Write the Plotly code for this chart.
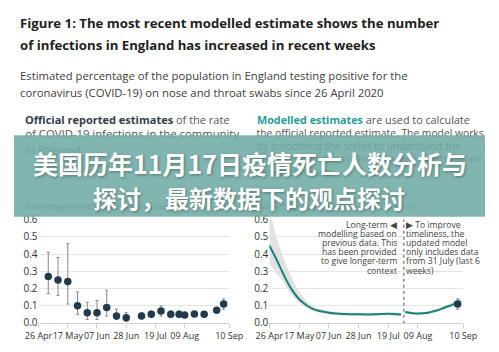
import plotly.graph_objects as go

W, H = 499, 352

# ---------------- data ----------------
# Official reported estimates (left panel): % testing positive, with 95% intervals
obs_dates = ["2020-05-03", "2020-05-10", "2020-05-17", "2020-05-24", "2020-05-31",
             "2020-06-07", "2020-06-14", "2020-06-21", "2020-06-28", "2020-07-09",
             "2020-07-16", "2020-07-23", "2020-07-30", "2020-08-05", "2020-08-09",
             "2020-08-16", "2020-08-23", "2020-09-01", "2020-09-06"]
obs_val = [0.27, 0.25, 0.24, 0.10, 0.06, 0.06, 0.09, 0.04, 0.03, 0.04,
           0.05, 0.07, 0.05, 0.05, 0.046, 0.052, 0.05, 0.074, 0.11]
obs_lo = [0.17, 0.16, 0.11, 0.05, 0.02, 0.02, 0.04, 0.02, 0.01, 0.03,
          0.04, 0.04, 0.035, 0.035, 0.035, 0.04, 0.04, 0.06, 0.08]
obs_hi = [0.41, 0.38, 0.46, 0.18, 0.12, 0.13, 0.19, 0.08, 0.06, 0.06,
          0.07, 0.10, 0.07, 0.07, 0.06, 0.065, 0.065, 0.09, 0.14]

# Long-term model (right panel, before 31 July)
lt_dates = ["2020-04-26", "2020-05-01", "2020-05-05", "2020-05-11", "2020-05-18",
            "2020-05-27", "2020-06-07", "2020-06-18", "2020-06-28", "2020-07-10",
            "2020-07-19", "2020-07-28"]
lt_val = [0.45, 0.37, 0.30, 0.205, 0.13, 0.08, 0.06, 0.052, 0.05, 0.05, 0.054, 0.049]
lt_teal_lo = [0.43, 0.355, 0.288, 0.196, 0.123, 0.074, 0.055, 0.047, 0.045, 0.045, 0.049, 0.044]
lt_teal_hi = [0.47, 0.385, 0.312, 0.214, 0.137, 0.086, 0.066, 0.057, 0.055, 0.055, 0.059, 0.054]
lt_grey_lo = [0.345, 0.29, 0.25, 0.17, 0.11, 0.068, 0.052, 0.045, 0.044, 0.044, 0.047, 0.042]
lt_grey_hi = [0.68, 0.50, 0.40, 0.28, 0.17, 0.097, 0.07, 0.06, 0.057, 0.057, 0.06, 0.057]

# Updated model (right panel, from 31 July)
up_dates = ["2020-07-31", "2020-08-05", "2020-08-10", "2020-08-16", "2020-08-22",
            "2020-08-28", "2020-09-03", "2020-09-08"]
up_val = [0.064, 0.057, 0.055, 0.06, 0.072, 0.09, 0.108, 0.124]
up_lo = [0.054, 0.050, 0.048, 0.053, 0.064, 0.080, 0.095, 0.106]
up_hi = [0.075, 0.064, 0.062, 0.067, 0.080, 0.100, 0.121, 0.142]

last_date = ["2020-09-06"]
last_val = [0.11]
last_lo = [0.08]
last_hi = [0.14]
split_date = "2020-07-30"

tick_dates = ["2020-04-26", "2020-05-17", "2020-06-07", "2020-06-28",
              "2020-07-19", "2020-08-09", "2020-09-10"]
tick_text = ["26 Apr", "17 May", "07 Jun", "28 Jun", "19 Jul", "09 Aug", "10 Sep"]
y_ticks = [0.0, 0.1, 0.2, 0.3, 0.4, 0.5, 0.6]

note_left = ["Long-term \u25C0", "modelling based on", "previous data. This",
             "has been provided", "to give longer-term", "context"]
note_right = ["\u25B6 To improve", "timeliness, the", "updated model",
              "only includes data", "from 31 July (last 6", "weeks)"]

# ---------------- styling ----------------
FONT = "Open Sans"
NAVY = "#1f3b4d"
TEAL = "#1f7f78"
TEAL_BAND = "#c6ecea"
GREY_BAND = "#e2e2e2"
GRID = "#e6e6e6"
TXT = "#414042"


def py(p):
    return 1 - p / H


fig = go.Figure()

# left panel: official estimates
fig.add_trace(go.Scatter(
    x=obs_dates, y=obs_val, mode="markers", xaxis="x", yaxis="y",
    marker=dict(size=7.5, color=NAVY),
    error_y=dict(type="data", symmetric=False,
                 array=[h - v for h, v in zip(obs_hi, obs_val)],
                 arrayminus=[v - l for v, l in zip(obs_val, obs_lo)],
                 color="#8a8a8a", thickness=1, width=1.5),
    cliponaxis=False, showlegend=False))

# right panel: grey band
fig.add_trace(go.Scatter(
    x=lt_dates + lt_dates[::-1], y=lt_grey_hi + lt_grey_lo[::-1],
    xaxis="x2", yaxis="y2", mode="lines", fill="toself", fillcolor=GREY_BAND,
    line=dict(width=0, shape="spline"), showlegend=False, hoverinfo="skip"))
# teal bands
fig.add_trace(go.Scatter(
    x=lt_dates + lt_dates[::-1], y=lt_teal_hi + lt_teal_lo[::-1],
    xaxis="x2", yaxis="y2", mode="lines", fill="toself", fillcolor=TEAL_BAND,
    line=dict(width=0, shape="spline"), showlegend=False, hoverinfo="skip"))
fig.add_trace(go.Scatter(
    x=up_dates + up_dates[::-1], y=up_hi + up_lo[::-1],
    xaxis="x2", yaxis="y2", mode="lines", fill="toself", fillcolor=TEAL_BAND,
    line=dict(width=0, shape="spline"), showlegend=False, hoverinfo="skip"))
# lines
fig.add_trace(go.Scatter(
    x=lt_dates, y=lt_val, xaxis="x2", yaxis="y2", mode="lines",
    line=dict(color=TEAL, width=2, shape="spline"), showlegend=False))
fig.add_trace(go.Scatter(
    x=up_dates, y=up_val, xaxis="x2", yaxis="y2", mode="lines",
    line=dict(color=TEAL, width=2, shape="spline"), showlegend=False))
fig.add_trace(go.Scatter(
    x=last_date, y=last_val, mode="markers", xaxis="x2", yaxis="y2",
    marker=dict(size=7.5, color=NAVY),
    error_y=dict(type="data", symmetric=False,
                 array=[h - v for h, v in zip(last_hi, last_val)],
                 arrayminus=[v - l for v, l in zip(last_val, last_lo)],
                 color="#8a8a8a", thickness=1, width=1.5),
    cliponaxis=False, showlegend=False))

# text lying under the banner (drawn as traces so the banner covers them)
under_text = [("of COVID-19 infections in the community", 12, 133, 11.3, "#555"),
              ("in England", 12, 150, 11.3, "#555"),
              ("Percentage testing positive for Covid-19", 12, 209, 8.6, "#666"),
              ("the official reported estimate. The model works", 257, 132, 10.3, "#555"),
              ("by smoothing the series to understand the", 257, 145.5, 10.3, "#555"),
              ("underlying trend and revise each week to incorporate", 257, 159, 9, "#555"),
              ("new test results.", 257, 173, 10.3, "#555"),
              ("Percentage testing positive for Covid-19", 257, 209, 8.6, "#666")]
fig.add_trace(go.Scatter(
    x=[u[1] for u in under_text], y=[u[2] for u in under_text],
    text=[u[0] for u in under_text], mode="text", textposition="middle right",
    textfont=dict(family=FONT, size=[u[3] for u in under_text],
                  color=[u[4] for u in under_text]),
    xaxis="x3", yaxis="y3", showlegend=False, hoverinfo="skip", cliponaxis=False))

axis_common_x = dict(type="date", range=["2020-04-26", "2020-09-10"],
                     tickvals=tick_dates, ticktext=tick_text, showgrid=False,
                     showline=True, linecolor="#d0d0d0", ticks="outside", ticklen=4,
                     tickcolor="#d0d0d0", tickangle=0,
                     tickfont=dict(family=FONT, size=9, color="#333"),
                     fixedrange=True)
axis_common_y = dict(range=[0, 0.6], tickvals=y_ticks,
                     ticktext=["%.1f" % v for v in y_ticks], showgrid=True,
                     gridcolor=GRID, zeroline=False, showline=False, ticks="",
                     tickfont=dict(family=FONT, size=10, color="#333"), fixedrange=True)

fig.update_layout(
    width=W, height=H, margin=dict(l=0, r=0, t=0, b=0),
    paper_bgcolor="white", plot_bgcolor="rgba(0,0,0,0)",
    xaxis=dict(domain=[26 / W, 228 / W], anchor="y", **axis_common_x),
    yaxis=dict(domain=[py(329), py(221)], anchor="x", **axis_common_y),
    xaxis2=dict(domain=[270.5 / W, 476 / W], anchor="y2", **axis_common_x),
    yaxis2=dict(domain=[py(329), py(221)], anchor="x2", **axis_common_y),
    xaxis3=dict(domain=[0, 1], range=[0, W], visible=False, anchor="y3", fixedrange=True),
    yaxis3=dict(domain=[0, 1], range=[H, 0], visible=False, anchor="x3", fixedrange=True),
)

# dotted split line
fig.add_shape(type="line", xref="x2", yref="y2", x0=split_date, x1=split_date,
              y0=-0.005, y1=0.61, line=dict(color="#777", width=1.3, dash="dot"))

# banner
fig.add_shape(type="rect", xref="paper", yref="paper", x0=0, x1=1,
              y0=py(218), y1=py(133), fillcolor="rgba(110,171,165,0.88)",
              line=dict(width=0), layer="above")

ann = []


def add_text(text, x, y, size, color, bold=False, xanchor="left", family=FONT, **kw):
    ann.append(dict(text=("<b>%s</b>" % text) if bold else text, x=x / W, y=py(y),
                    xref="paper", yref="paper", xanchor=xanchor, yanchor="middle",
                    showarrow=False, font=dict(family=family, size=size, color=color, **kw)))


add_text("Figure 1: The most recent modelled estimate shows the number", 4, 16, 13.2, "#222", True)
add_text("of infections in England has increased in recent weeks", 4, 38.5, 13.2, "#222", True)
add_text("Estimated percentage of the population in England testing positive for the", 4, 71, 11.3, TXT)
add_text("coronavirus (COVID-19) on nose and throat swabs since 26 April 2020", 4, 88, 11.3, TXT)
add_text("<b><span style='color:#2f3e4a'>Official reported estimates</span></b> of the rate",
         10, 116, 11, "#555")
add_text("<b><span style='color:#2a9d98'>Modelled estimates</span></b> are used to calculate",
         255, 116, 10.8, "#555")

note_y = [226.7, 236, 245.3, 254.7, 264.3, 274.3]
for t, yy in zip(note_left, note_y):
    add_text(t, 408, yy, 8.6, "#444", xanchor="right")
for t, yy in zip(note_right, note_y):
    add_text(t, 413, yy, 8.6, "#444", xanchor="left")

shadow = "1px 1px 3px rgba(0,0,0,0.35)"
add_text("美国历年11月17日疫情死亡人数分析与", 250, 162, 25, "white", True,
         xanchor="center", family="Noto Sans CJK SC", shadow=shadow)
add_text("探讨，最新数据下的观点探讨", 249, 198, 24, "white", True,
         xanchor="center", family="Noto Sans CJK SC", shadow=shadow)

fig.update_layout(annotations=ann)
fig.write_html("out.html")
